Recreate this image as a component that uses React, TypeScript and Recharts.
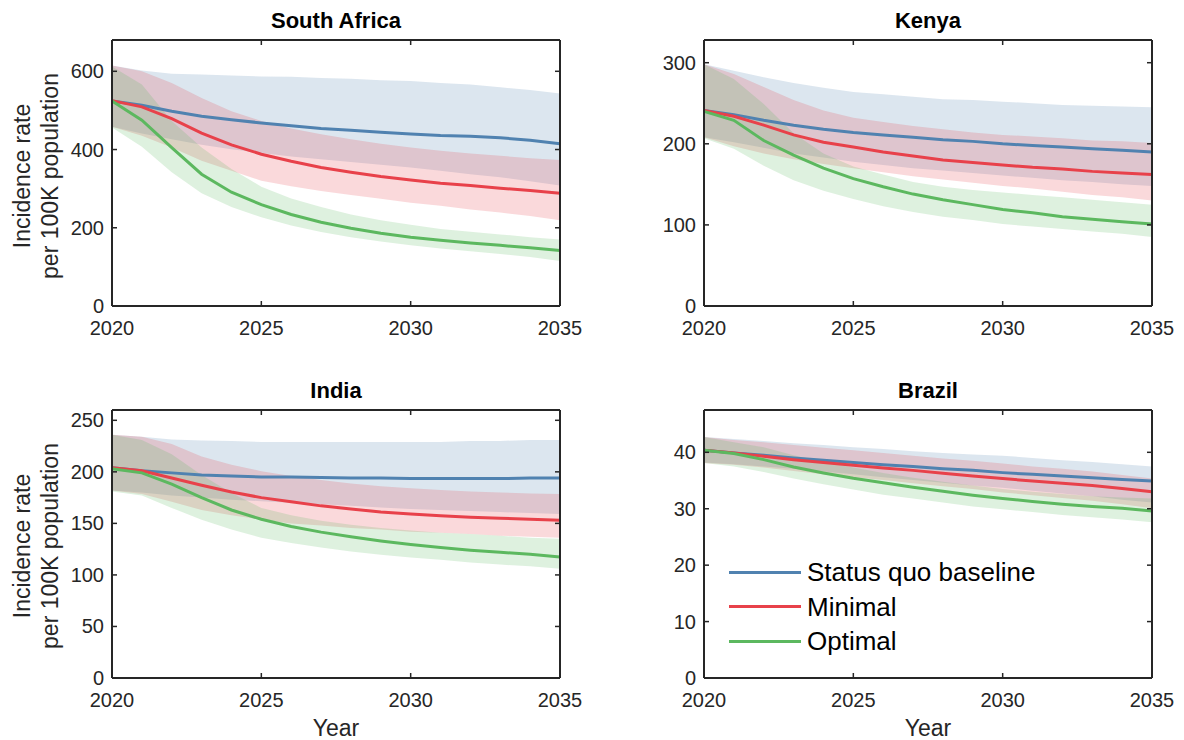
import React from "react";
import { ComposedChart, Area, Line, XAxis, YAxis } from "recharts";

const FONT = "'Liberation Sans', Arial, Helvetica, sans-serif";
const AXIS = "#262626";
const BLUE = "#5082b0";
const RED = "#e8414a";
const GREEN = "#5cb85f";

const years = [2020, 2021, 2022, 2023, 2024, 2025, 2026, 2027, 2028, 2029, 2030, 2031, 2032, 2033, 2034, 2035];
const xTicks = [2020, 2025, 2030, 2035];

// South Africa
const saSq = [524, 513, 498, 485, 476, 468, 461, 454, 449, 444, 440, 436, 434, 430, 424, 415];
const saSqHi = [615, 602, 594, 592, 589, 587, 586, 583, 581, 577, 575, 570, 566, 559, 552, 543];
const saSqLo = [458, 441, 426, 412, 401, 391, 382, 375, 368, 361, 354, 346, 337, 329, 319, 308];
const saMin = [525, 509, 479, 442, 412, 388, 370, 354, 342, 331, 322, 314, 308, 301, 295, 288];
const saMinHi = [615, 600, 570, 532, 498, 473, 454, 439, 426, 415, 405, 397, 390, 384, 378, 373];
const saMinLo = [458, 435, 405, 371, 346, 320, 306, 294, 284, 274, 264, 256, 247, 239, 230, 219];
const saOpt = [524, 475, 405, 337, 291, 259, 234, 214, 199, 186, 176, 168, 161, 155, 149, 142];
const saOptHi = [612, 566, 473, 405, 350, 305, 275, 253, 234, 219, 208, 197, 190, 183, 176, 170];
const saOptLo = [456, 407, 342, 288, 253, 227, 206, 189, 176, 165, 155, 147, 140, 133, 125, 115];

// Kenya
const keSq = [241, 236, 229, 223, 218, 214, 211, 208, 205, 203, 200, 198, 196, 194, 192, 190];
const keSqHi = [298, 290, 282, 275, 269, 264, 261, 258, 255, 254, 252, 250, 248, 247, 246, 245];
const keSqLo = [208, 202, 195, 188, 183, 178, 174, 170, 167, 164, 161, 158, 155, 153, 150, 148];
const keMin = [241, 234, 223, 211, 202, 196, 190, 185, 180, 177, 174, 171, 169, 166, 164, 162];
const keMinHi = [298, 286, 270, 254, 241, 232, 227, 222, 218, 214, 211, 209, 207, 204, 203, 201];
const keMinLo = [208, 197, 188, 181, 175, 170, 165, 160, 156, 152, 148, 145, 141, 137, 134, 130];
const keOpt = [240, 229, 204, 186, 170, 157, 147, 138, 131, 125, 119, 115, 110, 107, 104, 101];
const keOptHi = [298, 280, 249, 213, 188, 172, 162, 153, 147, 143, 140, 137, 134, 131, 128, 125];
const keOptLo = [207, 194, 173, 155, 142, 132, 123, 116, 110, 106, 101, 98, 95, 92, 89, 85];

// India
const inSq = [204, 201, 199, 197, 196, 195, 195, 194.5, 194, 194, 193.5, 193.5, 193.5, 193.5, 194, 194];
const inSqHi = [236, 234, 231.5, 230.5, 230, 229, 229, 229, 229, 229, 229, 229, 230, 230, 231, 231];
const inSqLo = [182, 180, 177, 175, 173, 171.5, 170, 168.5, 167, 165.5, 164, 163, 162, 161, 160, 159];
const inMin = [204, 201, 194, 187, 180.5, 175, 171, 167, 164, 161, 159, 157.5, 156, 155, 154, 153];
const inMinHi = [236, 234, 227, 215, 207, 200.6, 196, 192, 188.6, 186, 184, 182.5, 181, 180, 179, 178.6];
const inMinLo = [182, 178.6, 171, 163, 158, 153.6, 150, 148, 145.5, 144, 142, 141, 139.6, 138, 137, 136];
const inOpt = [203, 199, 188, 175, 163, 154, 147, 141.5, 137, 133, 129.5, 126.6, 124, 122, 120, 117.5];
const inOptHi = [236, 231, 217, 197, 179.5, 165, 158, 152.6, 148.7, 145.5, 143, 141, 139.6, 138, 136, 135];
const inOptLo = [181, 177, 165, 153.6, 144, 136, 131, 126.6, 122.7, 119.5, 117, 114.6, 112, 110, 108.4, 106];

// Brazil
const brSq = [40.35, 39.9, 39.5, 39.0, 38.6, 38.2, 37.8, 37.5, 37.1, 36.8, 36.4, 36.1, 35.8, 35.5, 35.2, 34.9];
const brSqHi = [42.7, 42.35, 42.0, 41.6, 41.3, 40.9, 40.6, 40.2, 39.9, 39.6, 39.4, 39.0, 38.6, 38.3, 37.9, 37.5];
const brSqLo = [38.2, 37.9, 37.5, 37.1, 36.6, 36.1, 35.6, 35.1, 34.6, 34.1, 33.7, 33.2, 32.7, 32.2, 31.6, 31.1];
const brMin = [40.35, 39.9, 39.3, 38.7, 38.2, 37.7, 37.2, 36.8, 36.3, 35.8, 35.35, 34.9, 34.5, 34.1, 33.6, 33.0];
const brMinHi = [42.7, 42.2, 41.8, 41.3, 40.8, 40.35, 39.9, 39.4, 38.9, 38.5, 38.0, 37.5, 37.1, 36.6, 36.0, 35.35];
const brMinLo = [38.1, 37.8, 37.3, 36.7, 36.1, 35.6, 35.1, 34.5, 34.0, 33.5, 32.9, 32.4, 31.9, 31.4, 30.8, 30.1];
const brOpt = [40.35, 39.8, 38.7, 37.4, 36.35, 35.4, 34.6, 33.8, 33.1, 32.4, 31.8, 31.3, 30.8, 30.4, 30.1, 29.6];
const brOptHi = [42.7, 41.8, 40.9, 39.5, 38.3, 37.3, 36.35, 35.5, 34.8, 34.1, 33.5, 33.0, 32.6, 32.2, 32.0, 31.8];
const brOptLo = [38.1, 37.5, 36.5, 35.35, 34.35, 33.4, 32.5, 31.8, 31.1, 30.4, 29.9, 29.4, 28.9, 28.5, 28.1, 27.6];

const legendItems = [
  { label: "Status quo baseline", color: BLUE },
  { label: "Minimal", color: RED },
  { label: "Optimal", color: GREEN },
];

type Series = { sq: number[]; sqLo: number[]; sqHi: number[]; min: number[]; minLo: number[]; minHi: number[]; opt: number[]; optLo: number[]; optHi: number[] };

function buildRows(s: Series) {
  return years.map((year, i) => ({
    year,
    sq: s.sq[i],
    sqBand: [s.sqLo[i], s.sqHi[i]],
    min: s.min[i],
    minBand: [s.minLo[i], s.minHi[i]],
    opt: s.opt[i],
    optBand: [s.optLo[i], s.optHi[i]],
  }));
}

const panels = [
  {
    title: "South Africa", left: 0, top: 0, yMax: 680, yTicks: [0, 200, 400, 600], bottom: 64,
    rows: buildRows({ sq: saSq, sqLo: saSqLo, sqHi: saSqHi, min: saMin, minLo: saMinLo, minHi: saMinHi, opt: saOpt, optLo: saOptLo, optHi: saOptHi }),
  },
  {
    title: "Kenya", left: 592, top: 0, yMax: 328, yTicks: [0, 100, 200, 300], bottom: 64,
    rows: buildRows({ sq: keSq, sqLo: keSqLo, sqHi: keSqHi, min: keMin, minLo: keMinLo, minHi: keMinHi, opt: keOpt, optLo: keOptLo, optHi: keOptHi }),
  },
  {
    title: "India", left: 0, top: 370, yMax: 260, yTicks: [0, 50, 100, 150, 200, 250], bottom: 62,
    rows: buildRows({ sq: inSq, sqLo: inSqLo, sqHi: inSqHi, min: inMin, minLo: inMinLo, minHi: inMinHi, opt: inOpt, optLo: inOptLo, optHi: inOptHi }),
  },
  {
    title: "Brazil", left: 592, top: 370, yMax: 47.5, yTicks: [0, 10, 20, 30, 40], bottom: 62,
    rows: buildRows({ sq: brSq, sqLo: brSqLo, sqHi: brSqHi, min: brMin, minLo: brMinLo, minHi: brMinHi, opt: brOpt, optLo: brOptLo, optHi: brOptHi }),
  },
];

const BottomTick = (props: any) => {
  const { x, y, payload } = props;
  return (
    <g>
      <line x1={x} x2={x} y1={y} y2={y - 5} stroke={AXIS} strokeWidth={1.5} />
      <text x={x} y={y + 29} textAnchor="middle" fontSize={20} fontFamily={FONT} fill={AXIS}>
        {payload.value}
      </text>
    </g>
  );
};

const TopTick = (props: any) => {
  const { x, y } = props;
  return <line x1={x} x2={x} y1={y} y2={y + 5} stroke={AXIS} strokeWidth={1.5} />;
};

const LeftTick = (props: any) => {
  const { x, y, payload } = props;
  return (
    <g>
      <line x1={x} x2={x + 5} y1={y} y2={y} stroke={AXIS} strokeWidth={1.5} />
      <text x={x - 8} y={y + 7} textAnchor="end" fontSize={20} fontFamily={FONT} fill={AXIS}>
        {payload.value}
      </text>
    </g>
  );
};

const RightTick = (props: any) => {
  const { x, y } = props;
  return <line x1={x} x2={x - 5} y1={y} y2={y} stroke={AXIS} strokeWidth={1.5} />;
};

function Panel({ p }: { p: (typeof panels)[number] }) {
  return (
    <div style={{ position: "absolute", left: p.left, top: p.top, width: 592, height: 370 }}>
      <div
        style={{
          position: "absolute", left: 112, width: 448, top: 7, textAlign: "center",
          fontFamily: FONT, fontWeight: "bold", fontSize: 22, color: "#000", lineHeight: "28px",
        }}
      >
        {p.title}
      </div>
      <ComposedChart width={592} height={370} data={p.rows} margin={{ top: 39, right: 31, bottom: p.bottom - 30, left: 52 }}>
        <XAxis
          dataKey="year" type="number" domain={[2020, 2035]} ticks={xTicks} height={30}
          tickSize={0} tickMargin={0} tickLine={false} tick={<BottomTick />}
          axisLine={{ stroke: AXIS, strokeWidth: 2 }} interval={0}
        />
        <XAxis
          xAxisId="top" orientation="top" dataKey="year" type="number" domain={[2020, 2035]} ticks={xTicks}
          height={1} tickSize={0} tickMargin={0} tickLine={false} tick={<TopTick />}
          axisLine={{ stroke: AXIS, strokeWidth: 2 }} allowDataOverflow interval={0}
        />
        <YAxis
          type="number" domain={[0, p.yMax]} ticks={p.yTicks} width={60}
          tickSize={0} tickMargin={0} tickLine={false} tick={<LeftTick />}
          axisLine={{ stroke: AXIS, strokeWidth: 2 }} allowDataOverflow interval={0}
        />
        <YAxis
          yAxisId="right" orientation="right" type="number" domain={[0, p.yMax]} ticks={p.yTicks} width={1}
          tickSize={0} tickMargin={0} tickLine={false} tick={<RightTick />}
          axisLine={{ stroke: AXIS, strokeWidth: 2 }} allowDataOverflow interval={0}
        />
        <Area dataKey="sqBand" type="linear" fill={BLUE} fillOpacity={0.2} stroke="none" isAnimationActive={false} activeDot={false} />
        <Line dataKey="sq" type="linear" stroke={BLUE} strokeWidth={3} dot={false} activeDot={false} isAnimationActive={false} />
        <Area dataKey="minBand" type="linear" fill={RED} fillOpacity={0.2} stroke="none" isAnimationActive={false} activeDot={false} />
        <Line dataKey="min" type="linear" stroke={RED} strokeWidth={3} dot={false} activeDot={false} isAnimationActive={false} />
        <Area dataKey="optBand" type="linear" fill={GREEN} fillOpacity={0.2} stroke="none" isAnimationActive={false} activeDot={false} />
        <Line dataKey="opt" type="linear" stroke={GREEN} strokeWidth={3} dot={false} activeDot={false} isAnimationActive={false} />
      </ComposedChart>
    </div>
  );
}

function YLabel({ cy }: { cy: number }) {
  const w = 300;
  const h = 56;
  return (
    <div
      style={{
        position: "absolute", left: 36 - w / 2, top: cy - h / 2, width: w, height: h,
        transform: "rotate(-90deg)", textAlign: "center", fontFamily: FONT, fontSize: 23,
        lineHeight: "28px", color: AXIS,
      }}
    >
      Incidence rate
      <br />
      per 100K population
    </div>
  );
}

function XLabel({ cx }: { cx: number }) {
  return (
    <div
      style={{
        position: "absolute", left: cx - 60, width: 120, top: 716, textAlign: "center",
        fontFamily: FONT, fontSize: 23, lineHeight: "24px", color: AXIS,
      }}
    >
      Year
    </div>
  );
}

export default function App() {
  return (
    <div style={{ position: "absolute", left: 0, top: 0, width: 1184, height: 740, background: "#fff", overflow: "hidden" }}>
      {panels.map((p) => (
        <Panel key={p.title} p={p} />
      ))}
      <YLabel cy={176} />
      <YLabel cy={546} />
      <XLabel cx={336} />
      <XLabel cx={928} />
      <div style={{ position: "absolute", left: 729, top: 555 }}>
        {legendItems.map((item) => (
          <div key={item.label} style={{ display: "flex", alignItems: "center", height: 34.5 }}>
            <div style={{ width: 72, height: 3, background: item.color }} />
            <span style={{ marginLeft: 6, fontFamily: FONT, fontSize: 26, color: "#000", lineHeight: "30px" }}>
              {item.label}
            </span>
          </div>
        ))}
      </div>
    </div>
  );
}
